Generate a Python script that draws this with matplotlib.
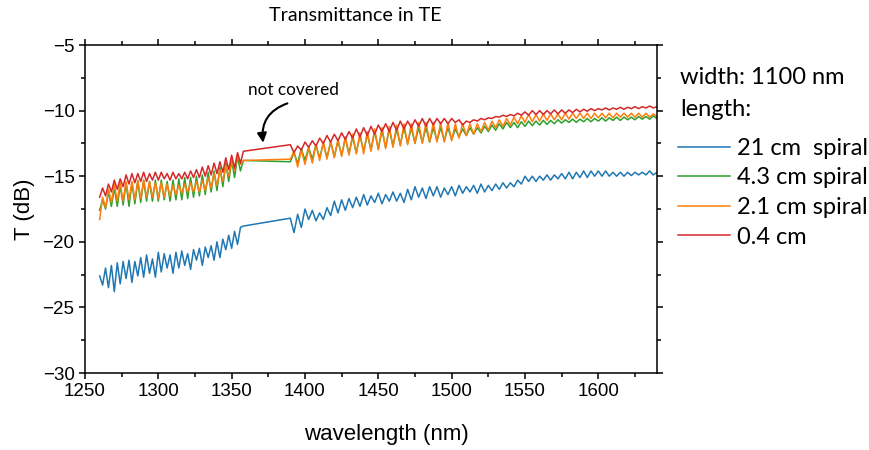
import numpy as np
import matplotlib
matplotlib.use("Agg")
from matplotlib import pyplot as plt
from matplotlib import ticker

# 光谱数据：两段测量（中间 1358-1390 nm 未覆盖，直接连线）
# 第一段 1260-1358 nm，步长 2 nm（条纹的峰/谷点）
wl_a = np.arange(1260, 1359, 2)
# 第二段 1390-1640 nm，步长 2.5 nm
wl_b = np.arange(1390, 1640.1, 2.5)

# 21 cm spiral
t21_a = [-22.6, -23.3, -22.0, -23.5, -21.8, -23.8, -21.6, -23.2, -21.5, -22.8,
         -21.4, -23.1, -21.5, -22.6, -21.2, -22.7, -21.0, -22.4, -21.3, -22.7,
         -20.8, -22.3, -20.9, -22.0, -21.0, -22.4, -20.8, -22.0, -20.7, -21.8,
         -20.9, -22.1, -20.6, -21.4, -20.5, -21.8, -20.4, -21.2, -20.3, -21.4,
         -20.0, -21.2, -19.8, -20.6, -19.5, -20.5, -19.2, -20.2, -18.9, -18.8]
t21_b = [-18.2, -19.3, -17.9, -18.9, -17.5, -18.3, -17.6, -18.4, -17.8, -18.3,
         -17.4, -18.0, -16.9, -17.8, -16.8, -17.6, -16.7, -17.4, -16.6, -17.3,
         -16.4, -17.2, -16.5, -17.0, -16.3, -17.1, -16.4, -16.9, -16.2, -16.9,
         -16.3, -17.0, -16.0, -16.8, -15.8, -16.6, -15.9, -16.7, -15.8, -16.5,
         -15.8, -16.6, -15.9, -16.4, -15.8, -16.5, -15.7, -16.3, -15.8, -16.2,
         -15.7, -16.3, -15.6, -16.2, -15.7, -16.1, -15.6, -16.0, -15.5, -15.9,
         -15.5, -15.8, -15.3, -15.6, -15.0, -15.4, -15.0, -15.4, -15.0, -15.3,
         -14.9, -15.3, -14.9, -15.2, -14.8, -15.2, -14.7, -15.2, -14.7, -15.1,
         -14.6, -15.1, -14.6, -15.0, -14.6, -15.0, -14.6, -15.0, -14.7, -15.0,
         -14.7, -15.0, -14.7, -14.95, -14.7, -14.9, -14.7, -14.9, -14.6, -14.9,
         -14.7]

# 4.3 cm spiral
t43_a = [-17.6, -16.8, -17.5, -16.2, -17.3, -15.9, -17.3, -15.7, -17.2, -15.5,
         -17.3, -15.5, -17.1, -15.4, -17.0, -15.3, -16.9, -15.4, -16.9, -15.3,
         -16.9, -15.3, -16.8, -15.4, -16.9, -15.3, -16.8, -15.2, -16.8, -15.1,
         -16.7, -15.1, -16.6, -15.0, -16.5, -14.9, -16.4, -14.7, -16.2, -14.6,
         -16.1, -14.3, -15.8, -14.0, -15.4, -13.8, -15.1, -13.5, -14.6, -13.8]
t43_b = [-13.9, -13.2, -14.0, -12.9, -13.8, -12.8, -13.7, -12.6, -13.6, -12.5,
         -13.6, -12.4, -13.5, -12.3, -13.4, -12.1, -13.3, -12.0, -13.2, -11.9,
         -13.1, -11.8, -13.0, -11.6, -12.9, -11.5, -12.8, -11.4, -12.7, -11.4,
         -12.6, -11.3, -12.5, -11.3, -12.5, -11.3, -12.4, -11.3, -12.4, -11.3,
         -12.3, -11.3, -12.3, -11.3, -12.2, -11.4, -12.0, -11.4, -11.9, -11.3,
         -11.8, -11.3, -11.7, -11.2, -11.6, -11.1, -11.5, -11.0, -11.4, -10.9,
         -11.3, -10.9, -11.3, -10.85, -11.2, -10.8, -11.15, -10.8, -11.1, -10.75,
         -11.05, -10.75, -11.0, -10.7, -10.95, -10.7, -10.9, -10.65, -10.9, -10.65,
         -10.85, -10.6, -10.85, -10.6, -10.8, -10.55, -10.8, -10.55, -10.75, -10.5,
         -10.75, -10.5, -10.7, -10.5, -10.7, -10.45, -10.65, -10.45, -10.65, -10.4,
         -10.6]

# 2.1 cm spiral
t21c_a = [-18.3, -16.6, -17.4, -16.0, -17.0, -15.6, -16.9, -15.5, -16.9, -15.4,
          -16.8, -15.4, -16.8, -15.3, -16.7, -15.3, -16.6, -15.4, -16.6, -15.5,
          -16.7, -15.5, -16.6, -15.6, -16.5, -15.7, -16.4, -15.7, -16.3, -15.6,
          -16.2, -15.5, -16.2, -15.4, -16.2, -15.3, -16.1, -15.1, -15.9, -14.8,
          -15.7, -14.5, -15.4, -14.2, -15.0, -13.8, -14.6, -13.4, -14.1, -13.8]
t21c_b = [-13.7, -13.1, -14.3, -13.0, -14.1, -12.9, -14.0, -12.6, -13.8, -12.4,
          -13.7, -12.3, -13.6, -12.2, -13.5, -12.0, -13.4, -11.8, -13.3, -11.7,
          -13.3, -11.6, -13.1, -11.4, -13.0, -11.3, -12.9, -11.2, -12.8, -11.1,
          -12.7, -11.0, -12.6, -11.0, -12.5, -10.9, -12.5, -10.9, -12.4, -10.9,
          -12.4, -10.9, -12.4, -10.9, -12.3, -11.0, -12.1, -11.0, -11.9, -11.0,
          -11.8, -11.0, -11.6, -10.9, -11.5, -10.8, -11.3, -10.7, -11.2, -10.6,
          -11.1, -10.5, -11.0, -10.4, -10.9, -10.3, -10.85, -10.3, -10.8, -10.25,
          -10.75, -10.25, -10.7, -10.25, -10.7, -10.2, -10.65, -10.2, -10.6, -10.2,
          -10.6, -10.2, -10.6, -10.2, -10.55, -10.2, -10.55, -10.2, -10.55, -10.2,
          -10.5, -10.2, -10.5, -10.2, -10.5, -10.2, -10.5, -10.2, -10.5, -10.25,
          -10.45]

# 0.4 cm
t04_a = [-16.6, -15.9, -16.5, -15.6, -16.2, -15.3, -16.0, -15.2, -15.8, -14.9,
         -15.6, -14.8, -15.5, -14.8, -15.4, -14.7, -15.4, -14.8, -15.3, -14.7,
         -15.3, -14.7, -15.2, -14.8, -15.3, -14.7, -15.2, -14.8, -15.2, -14.7,
         -15.2, -14.6, -15.1, -14.5, -15.1, -14.3, -15.0, -14.2, -14.9, -14.0,
         -14.8, -13.9, -14.7, -13.6, -14.5, -13.4, -14.4, -13.2, -14.0, -13.1]
t04_b = [-12.6, -13.2, -12.7, -13.0, -12.4, -12.8, -12.3, -12.7, -12.1, -12.5,
         -11.9, -12.4, -11.8, -12.3, -11.7, -12.2, -11.6, -12.1, -11.4, -12.0,
         -11.3, -11.9, -11.2, -11.8, -11.1, -11.6, -11.0, -11.6, -10.9, -11.5,
         -10.8, -11.4, -10.8, -11.3, -10.7, -11.2, -10.6, -11.2, -10.6, -11.1,
         -10.6, -11.0, -10.6, -11.0, -10.6, -10.9, -10.7, -11.1, -10.8, -10.9,
         -10.7, -10.8, -10.6, -10.7, -10.55, -10.6, -10.45, -10.5, -10.35, -10.45,
         -10.3, -10.4, -10.2, -10.35, -10.1, -10.35, -10.0, -10.3, -10.0, -10.3,
         -10.0, -10.25, -9.95, -10.25, -9.95, -10.2, -9.95, -10.15, -9.9, -10.1,
         -9.9, -10.05, -9.85, -10.0, -9.85, -9.95, -9.8, -9.95, -9.8, -9.9,
         -9.75, -9.9, -9.75, -9.85, -9.7, -9.85, -9.7, -9.8, -9.65, -9.8,
         -9.7]

labels = ['21 cm  spiral', '4.3 cm spiral', '2.1 cm spiral', '0.4 cm']
colors = ['#1f77b4', '#2ca02c', '#ff7f0e', '#d62728']
series = [(t21_a, t21_b), (t43_a, t43_b), (t21c_a, t21c_b), (t04_a, t04_b)]

sans = ['Liberation Sans', 'DejaVu Sans']
cal = ['Lato', 'DejaVu Sans']

fig = plt.figure(figsize=(8.69, 4.5), dpi=100)
ax = fig.add_axes([0.0978, 0.1711, 0.6582, 0.7289])

wl = np.concatenate([wl_a, wl_b])
lines = []
for (a, b), c, lab in zip(series, colors, labels):
    ln, = ax.plot(wl, np.concatenate([a, b]), color=c, lw=1.1, label=lab)
    lines.append(ln)

ax.set_xlim(1250, 1640)
ax.set_ylim(-30, -5)
ax.xaxis.set_major_locator(ticker.MultipleLocator(50))
ax.xaxis.set_minor_locator(ticker.MultipleLocator(25))
ax.yaxis.set_major_locator(ticker.MultipleLocator(5))
ax.yaxis.set_minor_locator(ticker.MultipleLocator(2.5))
ax.tick_params(which='both', direction='out', top=True, right=True, width=1.1)
ax.tick_params(which='major', length=4.5, labelsize=13.5, pad=3)
ax.tick_params(which='minor', length=2.8)
for s in ax.spines.values():
    s.set_linewidth(1.1)
for lab in ax.get_xticklabels() + ax.get_yticklabels():
    lab.set_family(sans)

ax.set_xlabel('wavelength (nm)', fontsize=16, family=sans)
ax.xaxis.set_label_coords(0.527, -0.155)
ax.set_ylabel('T (dB)', fontsize=16, family=sans)
ax.yaxis.set_label_coords(-0.087, 0.5)

fig.text(0.4085, 0.965, 'Transmittance in TE', ha='center', va='center',
         fontsize=14.2, family=cal)

# 未测量区间的标注
ax.text(1392, -8.45, 'not covered', ha='center', va='center',
        fontsize=12.3, family=cal)
ax.annotate('', xy=(1371.5, -12.45), xytext=(1388, -9.45),
            arrowprops=dict(arrowstyle='-|>', color='black', lw=1.5,
                            mutation_scale=14, shrinkA=0, shrinkB=0,
                            connectionstyle='arc3,rad=0.4'))

fig.text(680 / 869, 1 - 78 / 450, 'width: 1100 nm', ha='left', va='center',
         fontsize=17, family=cal)
fig.text(680 / 869, 1 - 110 / 450, 'length:', ha='left', va='center',
         fontsize=17, family=cal)
ax.legend(handles=lines, loc='upper left', bbox_to_anchor=(678 / 869, 1 - 138 / 450),
          bbox_transform=fig.transFigure, frameon=False, borderpad=0,
          borderaxespad=0, handlelength=2.2, handletextpad=0.3,
          labelspacing=0.36, prop={'family': cal, 'size': 17})

fig.savefig('out.png', dpi=100)
